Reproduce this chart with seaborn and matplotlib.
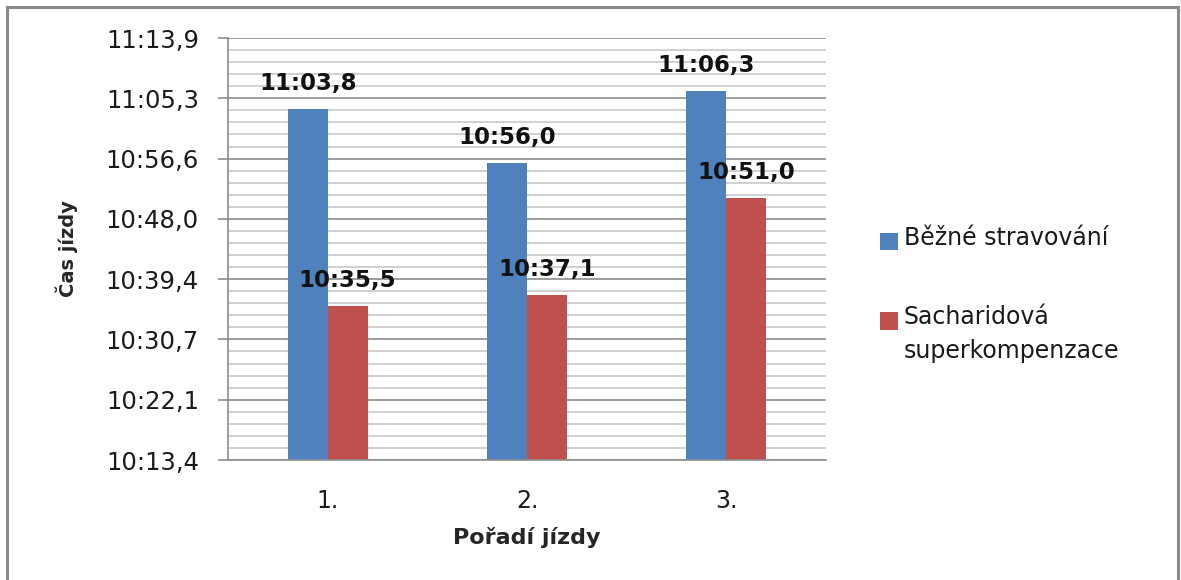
import numpy as np
import pandas as pd
import matplotlib
matplotlib.use("Agg")
import matplotlib.pyplot as plt
from matplotlib.patches import Rectangle
from matplotlib.ticker import FixedLocator, MultipleLocator
import seaborn as sns

# Ride order and ride times (seconds)
rides = ["1.", "2.", "3."]
series_names = ["Běžné stravování", "Sacharidová\nsuperkompenzace"]
normal_diet = [663.8, 656.0, 666.3]
carb_loading = [635.5, 637.1, 651.0]

# Axis ticks: 0.0071 day start, 0.0001 day steps
y_tick_values = [613.44, 622.08, 630.72, 639.36, 648.00, 656.64, 665.28, 673.92]
y_tick_labels = ["10:13,4", "10:22,1", "10:30,7", "10:39,4",
                 "10:48,0", "10:56,6", "11:05,3", "11:13,9"]

colors = ["#4F81BD", "#C0504D"]


def fmt_time(sec):
    m = int(sec // 60)
    s = sec - 60 * m
    return f"{m}:{s:04.1f}".replace(".", ",")


df = pd.DataFrame({
    "ride": rides * 2,
    "series": [series_names[0]] * 3 + [series_names[1]] * 3,
    "time": normal_diet + carb_loading,
})

sns.set_theme(style="white")
plt.rcParams["font.family"] = ["DejaVu Sans"]

fig = plt.figure(figsize=(11.81, 5.80), dpi=100)
ax = fig.add_axes([228 / 1181, 120 / 580, 598 / 1181, 422 / 580])

sns.barplot(data=df, x="ride", y="time", hue="series", palette=colors,
            width=0.4, saturation=1, edgecolor="none", ax=ax, legend=True)

ax.set_ylim(y_tick_values[0], y_tick_values[-1])
ax.yaxis.set_major_locator(FixedLocator(y_tick_values))
ax.set_yticklabels(y_tick_labels)
ax.yaxis.set_minor_locator(MultipleLocator(1.728))
ax.set_xlim(-0.5, 2.5)

ax.set_axisbelow(True)
ax.grid(True, which="minor", axis="y", color="#c8c8c8", linewidth=1.2)
ax.grid(True, which="major", axis="y", color="#8c8c8c", linewidth=1.2)
ax.grid(False, axis="x")

for side in ["top", "right"]:
    ax.spines[side].set_visible(False)
for side in ["left", "bottom"]:
    ax.spines[side].set_color("#8c8c8c")
    ax.spines[side].set_linewidth(1.2)

ax.tick_params(axis="y", which="major", left=True, length=7, width=1.2,
               color="#8c8c8c", labelsize=17.5, pad=14, labelcolor="#1a1a1a")
ax.tick_params(axis="y", which="minor", left=False)
ax.tick_params(axis="x", bottom=False, labelsize=17, pad=15, labelcolor="#1a1a1a")

ax.set_xlabel("Pořadí jízdy", fontsize=16, fontweight="bold", labelpad=10)
ax.set_ylabel("Čas jízdy", fontsize=14, fontweight="bold", labelpad=20)

for cont in ax.containers:
    ax.bar_label(cont, labels=[fmt_time(v) for v in cont.datavalues],
                 padding=10, fontsize=16.5, fontweight="bold", color="#111111")

leg = ax.legend(loc="upper left", bbox_to_anchor=(880 / 1181, 1 - 226 / 580),
                bbox_transform=fig.transFigure, frameon=False, fontsize=17,
                handlelength=0.75, handleheight=0.75, handletextpad=0.25,
                labelspacing=2.35, borderpad=0, borderaxespad=0)
for t in leg.get_texts():
    t.set_color("#1a1a1a")
    t.set_linespacing(1.5)
# squares sit beside the first line of each entry
for column in leg._legend_handle_box.get_children():
    for item in column.get_children():
        item.align = "top"
for h in leg.legend_handles:
    h.set_y(h.get_y() - 5)

# chart frame
fig.patches.append(Rectangle((7 / 1181, -0.1), 1171 / 1181, 1.1 - 7 / 580,
                             transform=fig.transFigure, fill=False,
                             edgecolor="#8a8a8a", linewidth=2.2))

fig.savefig("out.png", dpi=100)
